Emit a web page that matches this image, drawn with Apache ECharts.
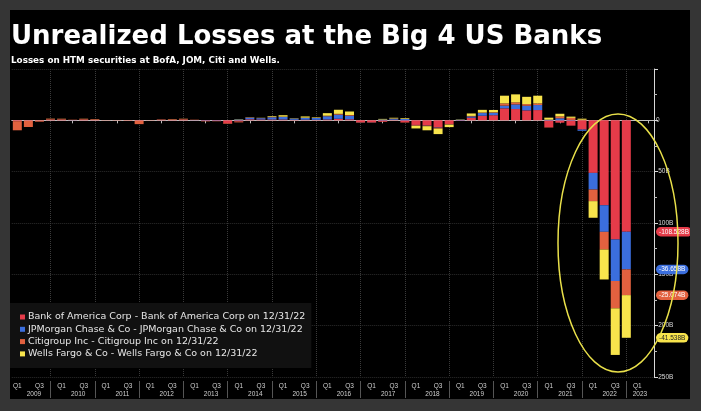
<!DOCTYPE html>
<html><head><meta charset="utf-8">
<script src="https://cdn.jsdelivr.net/npm/echarts@6/dist/echarts.min.js"></script>
<style>
html,body{margin:0;padding:0;background:#353535;width:701px;height:411px;overflow:hidden;}
#chart{position:absolute;left:10px;top:10px;width:680px;height:389px;background:#000;}
</style></head><body><div id="chart"></div>
<script>
// ---- data (quarter-end unrealized HTM gains/losses, $B) ----
const years = [2009,2010,2011,2012,2013,2014,2015,2016,2017,2018,2019,2020,2021,2022,2023];
const quarterNames = ['Q1','Q2','Q3','Q4'];
const bofa = [-0.8,-0.5,-0.4,0.6, 0.6,0.2,0.6,0.5, 0.1,0.1,-0.2,-0.5, 0.1,0.3,0.4,0.6, 0.2,-0.6,-0.6,-3.0,
  -1.2,1.0,0.8,0.8, 0.8,0.5,0.6,0.5, 0.8,1.5,1.0,-2.0, -2.0,-1.4,0.6,-2.0, -4.5,-5.0,-7.0,-3.8,
  -0.5,2.6,4.5,5.0, 11.7,11.0,9.7,10.0, -6.8,-2.3,-5.2,-9.0, -51.2,-82.7,-116.0,-108.528];
const jpm = [0,0,0,0.1, 0.1,0.1,0.1,0.1, 0,0,0,0, 0,0.1,0.1,0.1, 0.1,0.3,0.3,0,
  0.8,1.6,1.3,2.2, 2.5,1.2,1.8,1.8, 3.2,4.0,3.5,-0.2, -0.2,0.8,1.0,1.3, -0.2,-0.2,-0.3,-0.1,
  0.6,1.2,2.6,2.3, 2.6,4.5,4.5,4.9, 0.6,2.0,0.4,-1.2, -16.2,-25.9,-40.5,-36.658];
const citi = [-8.9,-6.0,-0.9,0.9, 0.8,0.3,0.8,0.6, 0.2,0.2,-0.3,-3.2, 0.2,0.5,0.6,0.8, 0.3,-0.4,-0.3,-0.6,
  -0.8,0.3,0.2,0.3, 0.3,0.1,0.2,0.2, 0.5,0.8,0.7,-0.4, -0.3,-0.2,0.2,-0.3, -0.6,-0.5,-0.8,-0.3,
  0,0.5,0.5,0.5, 2.2,2.0,1.6,1.6, -0.3,1.8,2.0,0.6, -11.3,-17.2,-26.6,-25.074];
const wells = [0,0,0,0.1, 0.1,0,0.1,0.1, 0,0,0,0, 0,0,0.1,0.1, 0,0,0,0,
  0.3,0.2,0.2,0.7, 1.4,0.3,1.2,0.5, 2.5,4.0,3.4,0, 0,0.6,0.7,0.7, -2.6,-4.0,-5.3,-2.4,
  0.3,2.4,2.6,2.3, 7.5,7.8,7.1,7.5, 2.0,2.6,1.2,1.0, -16.2,-29.2,-45.4,-41.538];
const seriesNames = [
  'Bank of America Corp - Bank of America Corp on 12/31/22',
  'JPMorgan Chase & Co - JPMorgan Chase & Co on 12/31/22',
  'Citigroup Inc - Citigroup Inc on 12/31/22',
  'Wells Fargo & Co - Wells Fargo & Co on 12/31/22'
];
const seriesColors = ['#E53B49','#3B6EDD','#E2613F','#F8E44C'];
const tagTextColors = ['#ffffff','#ffffff','#ffffff','#222222'];
const yTicks = {min:-250, max:50, step:50};

// categories: Q1 2009 .. Q2 2023
const categories = [];
years.forEach(y => quarterNames.forEach(q => {
  if (y < 2023 || q === 'Q1' || q === 'Q2') categories.push(q + ' ' + y);
}));

const seriesData = [bofa, jpm, citi, wells];
const lastIdx = bofa.length - 1;
let cum = 0;
const series = seriesData.map((d, k) => {
  cum += d[lastIdx];
  const last = d[lastIdx];
  return {
    name: seriesNames[k], type: 'bar', stack: 'total', data: d,
    xAxisIndex: 0, barWidth: 9, itemStyle: {color: seriesColors[k]},
    markLine: {
      silent: true, symbol: 'none', animation: false,
      lineStyle: {color: 'rgba(0,0,0,0)', width: 0},
      data: [{yAxis: cum}],
      label: {position: 'end', distance: 2, formatter: last.toFixed(3) + 'B',
        backgroundColor: seriesColors[k], color: tagTextColors[k],
        fontFamily: 'Liberation Sans', fontSize: 6.5, padding: [1.5, 3, 1, 3], borderRadius: 5}
    }
  };
});

const chart = echarts.init(document.getElementById('chart'));
chart.setOption({
  animation: false,
  backgroundColor: '#000',
  title: [
    {text: 'Unrealized Losses at the Big 4 US Banks', left: 1, top: 14, padding: 0,
     textStyle: {color: '#ffffff', fontFamily: 'DejaVu Sans', fontWeight: 'bold', fontSize: 26}},
    {text: 'Losses on HTM securities at BofA, JOM, Citi and Wells.', left: 1, top: 46, padding: 0,
     textStyle: {color: '#ffffff', fontFamily: 'DejaVu Sans', fontWeight: 'bold', fontSize: 8.8}}
  ],
  legend: {
    orient: 'vertical', left: 0, top: 293, padding: [8, 6, 8, 10],
    backgroundColor: '#111111', icon: 'rect', itemWidth: 5, itemHeight: 5, itemGap: 0.3,
    selectedMode: false,
    textStyle: {color: '#e6e6e6', fontFamily: 'DejaVu Sans', fontSize: 9.5, lineHeight: 12, padding: [0,0,0,-2]},
    data: seriesNames
  },
  grid: {left: -1.5, right: 36, top: 59, bottom: 22, containLabel: false},
  xAxis: [
    {type: 'category', data: categories, boundaryGap: true, position: 'bottom', offset: 4,
     axisLine: {lineStyle: {color: '#bdbdbd', width: 1}},
     axisTick: {show: true, alignWithLabel: true, length: 3, interval: (i, v) => v.indexOf('Q2') === 0,
       lineStyle: {color: '#bdbdbd'}},
     axisLabel: {interval: 0, margin: 2, color: '#cfcfcf', fontFamily: 'Liberation Sans', fontSize: 6.5,
       formatter: (v) => { const q = v.split(' ')[0]; return (q === 'Q1' || q === 'Q3') ? q : ''; }},
     splitLine: {show: true, alignWithLabel: true, interval: (i, v) => v.indexOf('Q4') === 0,
       lineStyle: {color: '#3a3a3a', type: 'dotted', width: 1}}
    },
    {type: 'category', data: categories, boundaryGap: true, position: 'bottom', offset: 4,
     axisLine: {show: false},
     axisTick: {show: true, alignWithLabel: true, length: 17, interval: (i, v) => v.indexOf('Q4') === 0,
       lineStyle: {color: '#555555'}},
     axisLabel: {interval: 0, margin: 9.5, color: '#cfcfcf', fontFamily: 'Liberation Sans', fontSize: 6.5,
       formatter: (v) => {
         const [q, y] = v.split(' ');
         if (y === '2023') return q === 'Q1' ? '{e|' + y + '}' : '';
         return q === 'Q2' ? '{m|' + y + '}' : '';
       },
       rich: {m: {padding: [0,0,0,11], fontSize: 6.5, color: '#cfcfcf', fontFamily: 'Liberation Sans'},
              e: {padding: [0,0,0,5], fontSize: 6.5, color: '#cfcfcf', fontFamily: 'Liberation Sans'}}},
     splitLine: {show: false}
    }
  ],
  yAxis: {
    type: 'value', position: 'right', min: yTicks.min, max: yTicks.max, interval: yTicks.step,
    axisLine: {show: true, lineStyle: {color: '#d8d8d8'}},
    axisTick: {show: true, length: 4, lineStyle: {color: '#d8d8d8'}},
    minorTick: {show: true, splitNumber: 2, length: 3, lineStyle: {color: '#bbbbbb'}},
    axisLabel: {margin: 2, color: '#d8d8d8', fontFamily: 'Liberation Sans', fontSize: 6.5,
      formatter: (v) => v === 0 ? '0' : (v === yTicks.max ? '' : v + 'B')},
    splitLine: {show: true, lineStyle: {color: '#2c2c2c', type: 'dotted'}}
  },
  graphic: [
    {type: 'ellipse', silent: true, z: 50,
     shape: {cx: 608, cy: 233, rx: 60, ry: 129},
     style: {stroke: '#E9E04A', fill: 'none', lineWidth: 1.5}}
  ],
  series: series
});
</script></body></html>
